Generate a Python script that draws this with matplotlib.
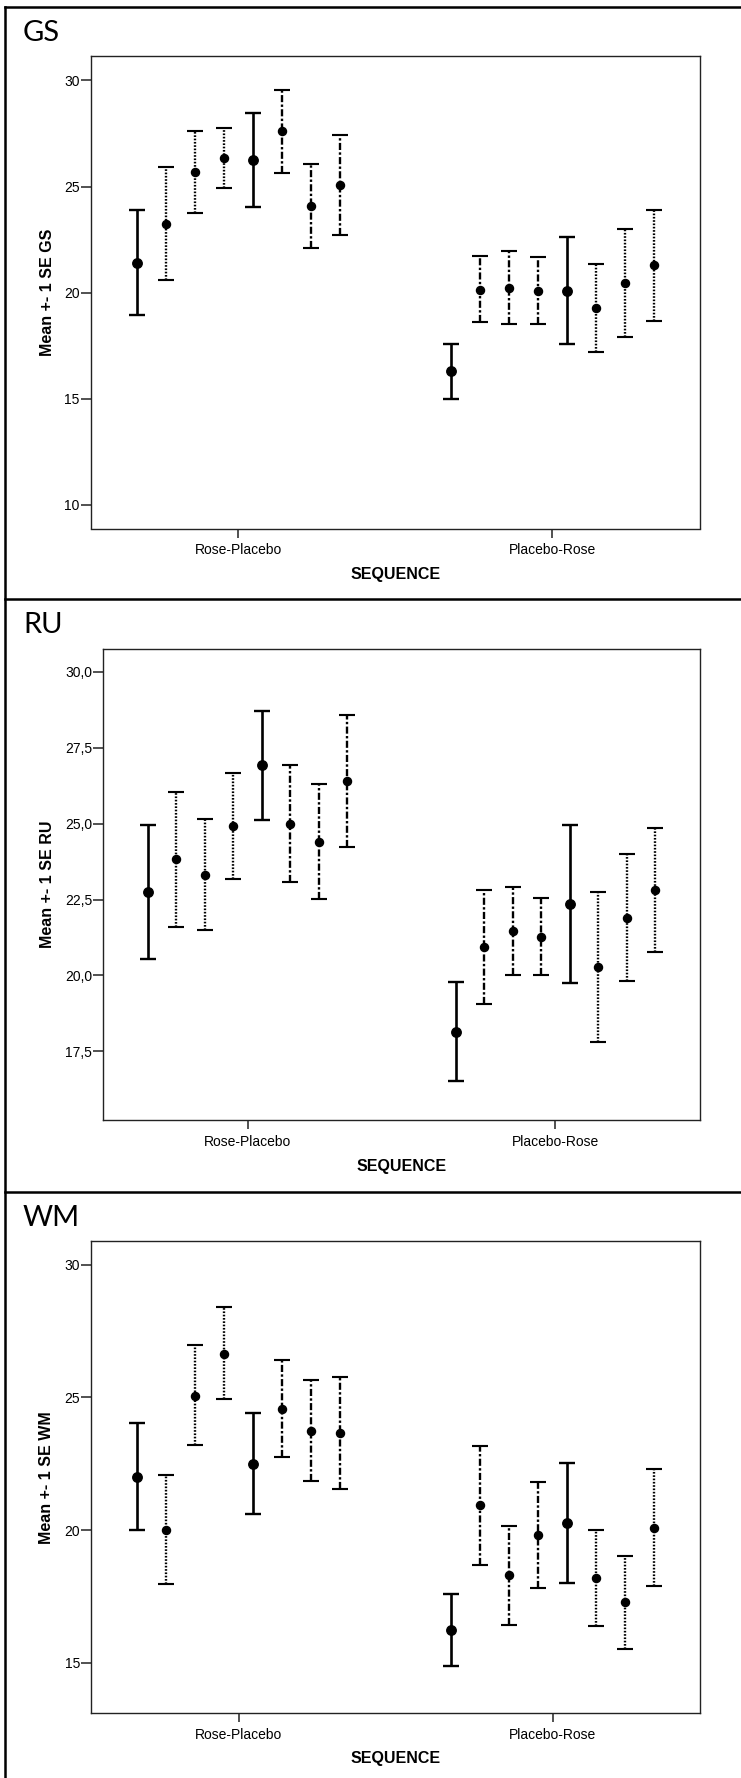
import matplotlib
matplotlib.use('Agg')
import matplotlib.pyplot as plt
from matplotlib.lines import Line2D
from matplotlib.ticker import FixedLocator, FuncFormatter

# ---------------- data ----------------
groups = ['Rose-Placebo', 'Placebo-Rose']
# condition of each of the 8 measurement occasions in each sequence
cond_rp = ['base', 'rose', 'rose', 'rose', 'base', 'placebo', 'placebo', 'placebo']
cond_pr = ['base', 'placebo', 'placebo', 'placebo', 'base', 'rose', 'rose', 'rose']

gs_rp_mean = [21.41, 23.25, 25.67, 26.34, 26.25, 27.60, 24.08, 25.07]
gs_rp_lo   = [18.94, 20.61, 23.77, 24.91, 24.04, 25.63, 22.09, 22.71]
gs_rp_hi   = [23.88, 25.90, 27.60, 27.78, 28.47, 29.57, 26.07, 27.45]
gs_pr_mean = [16.30, 20.14, 20.22, 20.09, 20.07, 19.28, 20.45, 21.28]
gs_pr_lo   = [14.98, 18.61, 18.52, 18.52, 17.58, 17.20, 17.91, 18.66]
gs_pr_hi   = [17.60, 21.71, 21.95, 21.66, 22.60, 21.35, 23.00, 23.90]

ru_rp_mean = [22.74, 23.82, 23.32, 24.91, 26.92, 25.00, 24.41, 26.41]
ru_rp_lo   = [20.54, 21.61, 21.50, 23.17, 25.13, 23.08, 22.53, 24.24]
ru_rp_hi   = [24.96, 26.04, 25.16, 26.66, 28.71, 26.92, 26.30, 28.59]
ru_pr_mean = [18.15, 20.92, 21.45, 21.26, 22.36, 20.26, 21.90, 22.81]
ru_pr_lo   = [16.52, 19.04, 20.01, 20.01, 19.75, 17.81, 19.81, 20.78]
ru_pr_hi   = [19.79, 22.80, 22.91, 22.55, 24.97, 22.76, 24.01, 24.86]

wm_rp_mean = [21.99, 20.00, 25.07, 26.65, 22.49, 24.57, 23.75, 23.66]
wm_rp_lo   = [19.99, 17.95, 23.21, 24.93, 20.60, 22.76, 21.84, 21.55]
wm_rp_hi   = [24.02, 22.07, 26.97, 28.40, 24.42, 26.41, 25.67, 25.78]
wm_pr_mean = [16.23, 20.93, 18.30, 19.81, 20.26, 18.18, 17.28, 20.07]
wm_pr_lo   = [14.86, 18.70, 16.44, 17.82, 18.02, 16.40, 15.51, 17.91]
wm_pr_hi   = [17.61, 23.16, 20.17, 21.81, 22.54, 19.99, 19.03, 22.29]

gs_ticks = [10, 15, 20, 25, 30]
ru_ticks = [17.5, 20.0, 22.5, 25.0, 27.5, 30.0]
wm_ticks = [15, 20, 25, 30]

# ---------------- layout ----------------
W, H = 741, 1778
fig = plt.figure(figsize=(W / 100, H / 100), dpi=100)
fig.patch.set_facecolor('white')

def fx(px):
    return px / W

def fy(px):
    return 1 - px / H

styles = {
    'base':    dict(ls='-',              lw=1.9, ms=6.8),
    'rose':    dict(ls=(0, (0.7, 0.7)),  lw=1.7, ms=5.8),
    'placebo': dict(ls=(0, (3, 1, 1, 1)), lw=1.7, ms=5.8),
}

spacing = 0.0926

panels = [
    dict(name='GS', base=41.0, box=(90.7, 56.3, 700, 528.5), ylim=(8.88, 31.14),
         ticks=gs_ticks, dec=False,
         rp=(gs_rp_mean, gs_rp_lo, gs_rp_hi), pr=(gs_pr_mean, gs_pr_lo, gs_pr_hi),
         ylabel='Mean +- 1 SE GS', ticky=548, seqy=574),
    dict(name='RU', base=633.3, box=(103, 648.6, 700, 1120.4), ylim=(15.22, 30.77),
         ticks=ru_ticks, dec=True,
         rp=(ru_rp_mean, ru_rp_lo, ru_rp_hi), pr=(ru_pr_mean, ru_pr_lo, ru_pr_hi),
         ylabel='Mean +- 1 SE RU', ticky=1140, seqy=1167),
    dict(name='WM', base=1225.8, box=(91.2, 1241, 700, 1713.4), ylim=(13.09, 30.90),
         ticks=wm_ticks, dec=False,
         rp=(wm_rp_mean, wm_rp_lo, wm_rp_hi), pr=(wm_pr_mean, wm_pr_lo, wm_pr_hi),
         ylabel='Mean +- 1 SE WM', ticky=1733, seqy=1759),
]

for p in panels:
    l, t, r, b = p['box']
    ax = fig.add_axes([fx(l), fy(b), (r - l) / W, (b - t) / H])
    ax.set_xlim(-0.47, 1.47)
    ax.set_ylim(*p['ylim'])
    for gi, (data, conds) in enumerate([(p['rp'], cond_rp), (p['pr'], cond_pr)]):
        means, los, his = data
        for i in range(len(means)):
            st = styles[conds[i]]
            xpos = gi + (i - 3.5) * spacing
            m = means[i]
            _, caps, bars = ax.errorbar(
                [xpos], [m], yerr=[[m - los[i]], [his[i] - m]],
                fmt='o', color='black', ms=st['ms'], elinewidth=st['lw'],
                capsize=5.5, capthick=st['lw'] * 0.9, zorder=3)
            bars[0].set_linestyle(st['ls'])
    ax.set_xticks([0, 1])
    ax.set_xticklabels(groups, family='Liberation Sans', fontsize=10)
    ax.yaxis.set_major_locator(FixedLocator(p['ticks']))
    if p['dec']:
        ax.yaxis.set_major_formatter(FuncFormatter(lambda v, pos: f'{v:.1f}'.replace('.', ',')))
    else:
        ax.yaxis.set_major_formatter(FuncFormatter(lambda v, pos: f'{v:.0f}'))
    for lab in ax.get_yticklabels():
        lab.set_family('Liberation Sans')
        lab.set_fontsize(10)
    ax.tick_params(axis='y', length=7, width=1.1, pad=0.8, color='#222222')
    ax.tick_params(axis='x', length=6.2, width=1.1, pad=4, color='#222222')
    for sp in ax.spines.values():
        sp.set_linewidth(1.0)
        sp.set_color('#222222')
    # panel title
    fig.text(fx(23), fy(p['base']), p['name'], family='Lato', fontsize=21,
             ha='left', va='baseline')
    # y label
    fig.text(fx(47), fy((t + b) / 2), p['ylabel'], family='Liberation Sans',
             fontsize=11.5, fontweight='bold', rotation=90, ha='center', va='center')
    # x label
    fig.text(fx((l + r) / 2), fy(p['seqy']), 'SEQUENCE', family='Liberation Sans',
             fontsize=11.5, fontweight='bold', ha='center', va='center')

# page/table border lines
def hline(y, x0=5, x1=W, lw=1.8):
    fig.add_artist(Line2D([fx(x0), fx(x1)], [fy(y), fy(y)], transform=fig.transFigure,
                          color='black', lw=lw))

hline(6.5)
hline(599)
hline(1191.5)
fig.add_artist(Line2D([fx(5.2), fx(5.2)], [fy(6.5), 0], transform=fig.transFigure,
                      color='black', lw=1.8))

fig.savefig('out.png', dpi=100)
